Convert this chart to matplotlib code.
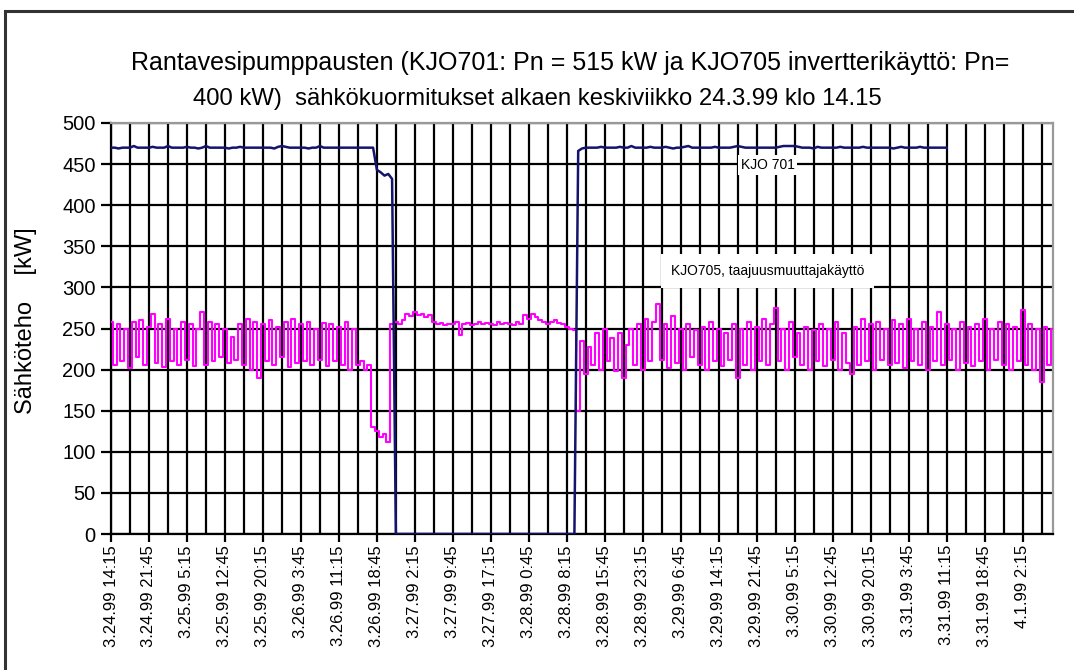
import numpy as np
import matplotlib
matplotlib.use("Agg")
import matplotlib.pyplot as plt
from matplotlib.patches import Rectangle
from matplotlib.ticker import MultipleLocator

plt.rcParams['font.family'] = ['Liberation Sans', 'DejaVu Sans']

# samples every 45 min, starting 24.3.99 14:15
step_h = 0.75

# KJO705 (inverter drive) kW
kjo705 = [
    258, 205, 255, 210, 250, 202, 258, 215, 260, 205,
    252, 268, 208, 255, 203, 262, 210, 250, 205, 258,
    212, 256, 204, 250, 270, 206, 258, 210, 255, 215,
    250, 208, 240, 212, 255, 205, 262, 200, 258, 190,
    255, 210, 260, 205, 252, 215, 258, 203, 262, 208,
    255, 210, 258, 205, 250, 212, 257, 204, 255, 210,
    252, 206, 258, 200, 250,
    205, 210, 200, 205,
    130, 125, 118, 122, 112,
    255,
    258, 256, 260, 268, 265, 270, 266, 268, 264, 266, 258,
    255, 257, 254, 256, 255, 258, 242, 255, 257, 254, 256, 258, 255, 257,
    256, 254, 258, 255, 257, 256, 254, 258, 256, 266, 262, 268, 264, 260,
    258, 256, 258, 260, 257, 256, 252, 250, 248,
    150,
    235, 195, 228, 205, 245, 200, 250, 210, 238, 198, 245, 190, 230,
    250, 205, 255, 200, 262, 210, 258, 280, 212, 255,
    202, 265, 208, 250, 200, 256, 215, 248, 205, 252,
    200, 258, 210, 250, 204, 245, 212, 255, 190, 250,
    205, 258, 200, 252, 210, 262, 206, 255, 275, 210,
    250, 200, 258, 215, 245, 205, 252, 200, 248, 210,
    255, 204, 250, 212, 258, 200, 245, 208, 195, 252,
    205, 262, 210, 255, 200, 258, 212, 250, 205, 260,
    208, 255, 202, 262, 210, 250, 205, 258, 200, 252,
    210, 270, 205, 255, 212, 250, 200, 258, 208, 252,
    204, 255, 210, 262, 200, 250, 212, 258, 205, 255,
    200, 252, 210, 272, 206, 255, 200, 250, 185, 252,
    205, 250,
]

# KJO701 kW
kjo701 = [
    470, 470, 469, 470, 470, 470, 472, 470, 470, 470,
    470, 471, 470, 470, 470, 472, 470, 470, 470, 470,
    471, 470, 470, 469, 470, 472, 470, 470, 470, 470,
    470, 469, 470, 470, 471, 470, 470, 470, 470, 470,
    470, 470, 470, 469, 471, 472, 471, 470, 470, 470,
    470, 470, 469, 470, 470, 472, 470, 470, 470, 470,
    470, 470, 470, 470, 470, 470, 470, 470, 470, 470,
    443, 440, 436, 438, 432,
    0, 0, 0, 0, 0, 0, 0, 0, 0, 0, 0, 0, 0, 0, 0, 0,
    0, 0, 0, 0, 0, 0, 0, 0, 0, 0, 0, 0, 0, 0, 0, 0,
    0, 0, 0, 0, 0, 0, 0, 0, 0, 0, 0, 0, 0, 0, 0, 0,
    466, 469, 470, 470, 470, 470, 471, 470, 470, 470,
    470, 471, 470, 470, 472, 470, 470, 470, 470, 471,
    470, 470, 470, 471, 470, 469, 470, 470, 471, 472,
    470, 470, 470, 470, 470, 470, 471, 470, 470, 470,
    470, 471, 472, 471, 470, 470, 470, 470, 470, 470,
    470, 470, 470, 471, 472, 472, 472, 472, 471, 470,
    470, 470, 469, 471, 470, 470, 470, 470, 470, 471,
    470, 470, 470, 470, 470, 471, 470, 470, 470, 470,
    470, 470, 470, 469, 470, 471, 470, 470, 470, 470,
    471, 470, 470, 470, 470, 470, 470, 470,
]

xlabels = [
    "3.24.99 14:15", "3.24.99 21:45", "3.25.99 5:15", "3.25.99 12:45",
    "3.25.99 20:15", "3.26.99 3:45", "3.26.99 11:15", "3.26.99 18:45",
    "3.27.99 2:15", "3.27.99 9:45", "3.27.99 17:15", "3.28.99 0:45",
    "3.28.99 8:15", "3.28.99 15:45", "3.28.99 23:15", "3.29.99 6:45",
    "3.29.99 14:15", "3.29.99 21:45", "3.30.99 5:15", "3.30.99 12:45",
    "3.30.99 20:15", "3.31.99 3:45", "3.31.99 11:15", "3.31.99 18:45",
    "4.1.99 2:15",
]
label_step_h = 7.5

title1 = "Rantavesipumppausten (KJO701: Pn = 515 kW ja KJO705 invertterikäyttö: Pn="
title2 = "400 kW)  sähkökuormitukset alkaen keskiviikko 24.3.99 klo 14.15"

t705 = np.arange(len(kjo705)) * step_h
t701 = np.arange(len(kjo701)) * step_h

fig = plt.figure(figsize=(10.74, 6.70), dpi=100)
ax = fig.add_axes([111/1074, 1 - 534/670, (1053-111)/1074, (534-123)/670])

ax.plot(t705, kjo705, color='#ff00ff', lw=1.5, drawstyle='steps-mid', zorder=3)
ax.plot(t701, kjo701, color='#14146e', lw=1.8, zorder=3)

ax.set_xlim(0, 186)
ax.set_ylim(0, 500)
ax.set_yticks(np.arange(0, 501, 50))
ax.set_xticks(np.arange(len(xlabels)) * label_step_h)
ax.set_xticklabels(xlabels, rotation=90, fontsize=12)
ax.xaxis.set_minor_locator(MultipleLocator(label_step_h / 2))

ax.grid(True, which='both', axis='x', color='black', lw=1.6, zorder=1)
ax.grid(True, which='major', axis='y', color='black', lw=1.6, zorder=1)
ax.tick_params(axis='y', direction='out', length=7, width=1.6, labelsize=14.5, pad=4)
ax.tick_params(axis='x', which='major', direction='out', length=6, width=1.6, pad=2)
ax.tick_params(axis='x', which='minor', length=0)

for s in ['left', 'bottom']:
    ax.spines[s].set_color('black')
    ax.spines[s].set_linewidth(1.6)
for s in ['top', 'right']:
    ax.spines[s].set_color('#999999')
    ax.spines[s].set_linewidth(1.6)

ax.set_ylabel("Sähköteho    [kW]", fontsize=17)
ax.yaxis.set_label_coords(-0.079, 0.52)

ax.text(0.697, 0.898, "KJO 701", transform=ax.transAxes, ha='center', va='center',
        fontsize=10, zorder=4,
        bbox=dict(facecolor='white', edgecolor='none', boxstyle='square,pad=0.2'))
ax.text(0.697, 0.64, "KJO705, taajuusmuuttajakäyttö", transform=ax.transAxes,
        ha='center', va='center', fontsize=10, zorder=4,
        bbox=dict(facecolor='white', edgecolor='none', boxstyle='square,pad=0.7'))

fig.text(570/1074, 1 - 63/670, title1, ha='center', va='center', fontsize=18)
fig.text(537/1074, 1 - 99/670, title2, ha='center', va='center', fontsize=17.2)

fig.patches.append(Rectangle((5/1074, -0.1), 1.2, 1.1 - 11/670, transform=fig.transFigure,
                             fill=False, edgecolor='#333333', lw=2.2))

fig.savefig("out.png", dpi=100, facecolor='white')
